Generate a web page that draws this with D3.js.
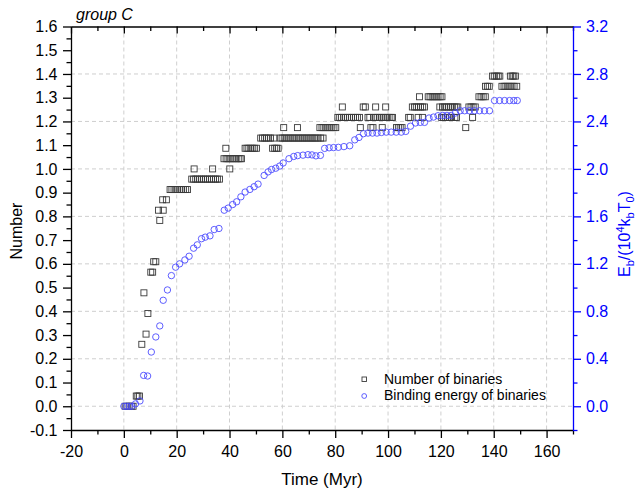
<!DOCTYPE html>
<html><head><meta charset="utf-8">
<script src="https://cdn.jsdelivr.net/npm/d3@7"></script>
<style>
html,body{margin:0;padding:0;background:#fff;}
svg{display:block;font-family:"Liberation Sans",Arial,sans-serif;}
</style></head>
<body>
<svg id="chart" width="636" height="491"></svg>
<script>
// ---- data ----
const chartTitle = "group C";
const xLabel = "Time (Myr)";
const yLeftLabel = "Number";
const legendLabels = ["Number of binaries", "Binding energy of binaries"];

const xTicks = [-20, 0, 20, 40, 60, 80, 100, 120, 140, 160];
const yLeftTicks = [-0.1, 0.0, 0.1, 0.2, 0.3, 0.4, 0.5, 0.6, 0.7, 0.8, 0.9, 1.0, 1.1, 1.2, 1.3, 1.4, 1.5, 1.6];
const yRightTicks = [0.0, 0.4, 0.8, 1.2, 1.6, 2.0, 2.4, 2.8, 3.2];

// [time (Myr), number] -- left axis
const binaryNumber = [
  [0.5,0],[1.2,0],[2.0,0],[2.8,0],[3.5,0],
  [4.7,0.043],[5.3,0.043],[5.9,0.043],
  [6.8,0.261],[7.6,0.478],[8.4,0.304],[9.1,0.391],
  [10.2,0.565],[10.9,0.565],[11.3,0.609],[12.1,0.609],
  [13.1,0.826],[13.6,0.783],[14.7,0.870],[14.9,0.826],[16.1,0.870],
  [17.5,0.913],[18.2,0.913],[19.0,0.913],[19.7,0.913],[20.4,0.913],[21.2,0.913],[21.9,0.913],[22.6,0.913],[23.4,0.913],[24.1,0.913],
  [25.7,0.957],[26.4,0.957],[26.6,1.0],[27.2,0.957],[27.9,0.957],[28.7,0.957],[29.4,0.957],[30.2,0.957],[30.9,0.957],[31.7,0.957],[32.4,0.957],[33.2,0.957],[33.6,1.0],[33.9,0.957],[34.7,0.957],[35.4,0.957],[36.2,0.957],
  [37.9,1.043],[38.6,1.087],[38.7,1.043],[39.4,1.043],[40.1,1.0],[40.2,1.043],[41.0,1.043],[41.7,1.043],[42.5,1.043],[43.3,1.043],[44.0,1.043],[44.5,1.043],
  [45.9,1.087],[46.6,1.087],[47.3,1.087],[48.1,1.087],[48.8,1.087],[49.5,1.087],[50.2,1.087],
  [51.8,1.13],[52.5,1.13],[53.3,1.13],[54.0,1.13],[54.8,1.13],[55.5,1.13],[56.3,1.087],[56.8,1.13],[57.1,1.087],[57.8,1.087],[58.4,1.087],
  [59.2,1.13],[59.9,1.13],[60.5,1.174],[60.7,1.13],[61.4,1.13],[62.2,1.13],[62.9,1.13],[63.7,1.13],[64.4,1.13],[65.2,1.13],[65.7,1.174],[66.0,1.13],[66.7,1.13],[67.5,1.13],[68.2,1.13],[69.0,1.13],[69.7,1.13],[70.5,1.13],[71.2,1.13],[72.0,1.13],[72.7,1.13],[73.5,1.13],
  [74.2,1.174],[74.5,1.13],[75.0,1.174],[75.4,1.13],[75.7,1.174],[76.5,1.174],[77.2,1.174],[78.0,1.174],[78.7,1.174],[79.5,1.174],[80.2,1.174],
  [81.0,1.217],[81.7,1.217],[82.4,1.217],[82.7,1.261],[83.2,1.217],[83.9,1.217],[84.7,1.217],[85.4,1.217],[86.2,1.217],[86.9,1.217],[87.7,1.217],[88.4,1.217],[89.2,1.217],[89.5,1.174],
  [90.6,1.261],[91.4,1.261],[92.4,1.217],[93.1,1.217],[93.5,1.174],[94.3,1.174],[94.5,1.217],[95.2,1.217],[95.3,1.261],[95.9,1.217],[96.7,1.217],[97.4,1.217],[97.8,1.174],[98.2,1.217],[98.9,1.217],[99.1,1.261],[99.7,1.217],[100.4,1.217],[101.2,1.217],[101.7,1.217],
  [103.2,1.174],[103.9,1.174],[104.6,1.174],[105.3,1.174],
  [107.8,1.217],[108.4,1.217],[109.2,1.261],[110.0,1.261],[110.7,1.261],[111.4,1.217],[111.5,1.261],[111.9,1.304],[112.3,1.261],[113.0,1.217],[113.1,1.261],[113.8,1.261],
  [115.2,1.304],[115.9,1.304],[116.7,1.304],[117.4,1.304],[118.2,1.304],[118.9,1.304],[119.6,1.261],[119.7,1.304],[120.3,1.217],[120.4,1.304],[120.6,1.261],[121.0,1.217],[121.3,1.261],[121.8,1.217],[122.1,1.261],[122.5,1.217],[122.8,1.261],[123.3,1.217],[123.6,1.261],[124.0,1.217],[124.3,1.261],[125.1,1.261],[125.3,1.217],[125.8,1.261],[125.9,1.217],[126.4,1.261],
  [129.4,1.174],[130.6,1.261],[131.4,1.261],[132.0,1.217],[132.2,1.261],[133.0,1.261],
  [134.4,1.304],[135.2,1.304],[136.0,1.304],[136.8,1.304],[136.9,1.348],[137.6,1.348],[138.3,1.348],
  [139.5,1.391],[140.2,1.391],[141.0,1.391],[141.7,1.391],[142.3,1.391],
  [143.1,1.348],[143.9,1.348],[144.6,1.348],[145.4,1.348],[146.1,1.348],[146.3,1.391],[146.9,1.348],[147.0,1.391],[147.6,1.391],[147.7,1.348],[148.2,1.391],[148.7,1.348]
];

// [time (Myr), Eb/(10^4 kb T0)] -- right axis
const bindingEnergy = [
  [0,0],[1,0],[2,0],[3,0],[4.4,0.02],[6.1,0.045],[7.5,0.26],[9.0,0.255],[10.4,0.457],[12.1,0.584],
  [13.6,0.677],[14.9,0.893],[16.5,0.98],[18.0,1.101],[19.6,1.172],[21.1,1.2],[23.1,1.233],[24.7,1.264],[26.4,1.332],[27.8,1.36],
  [29.4,1.412],[30.8,1.425],[32.6,1.436],[34.2,1.489],[36.0,1.498],[38.0,1.652],[39.5,1.67],[41.2,1.7],[42.7,1.723],[44.3,1.765],
  [45.9,1.805],[47.7,1.827],[49.3,1.85],[50.8,1.872],[53.1,1.945],[54.6,1.975],[55.9,1.995],[57.5,2.006],[59.0,2.024],[60.3,2.05],
  [62.5,2.086],[64.3,2.105],[65.8,2.112],[67.8,2.116],[69.7,2.12],[71.2,2.118],[72.7,2.11],[74.4,2.114],[76.0,2.173],[77.7,2.178],
  [79.4,2.18],[81.2,2.182],[83.3,2.188],[85.5,2.195],[87.4,2.245],[89.0,2.265],[90.7,2.297],[92.4,2.302],[94.1,2.302],[95.8,2.302],
  [97.5,2.307],[99.3,2.31],[101.2,2.31],[103.1,2.31],[105.0,2.31],[106.7,2.316],[108.5,2.36],[110.4,2.387],[112.2,2.392],[113.8,2.392],
  [115.5,2.429],[117.2,2.437],[118.9,2.448],[120.7,2.451],[122.3,2.451],[123.9,2.451],[125.5,2.471],[127.3,2.49],[129.0,2.49],[130.8,2.49],
  [132.7,2.49],[134.6,2.49],[136.5,2.49],[138.4,2.49],[140.3,2.576],[142.2,2.576],[144.1,2.576],[146.0,2.576],[147.6,2.576],[148.9,2.576]
];

// ---- drawing ----
const svg = d3.select("#chart");
const L = 71, R = 573, T = 26.5, B = 430;
const x = d3.scaleLinear().domain([-20, 170]).range([L, R]);
const yL = d3.scaleLinear().domain([-0.1, 1.6]).range([B, T]);
const yR = d3.scaleLinear().domain([-0.2, 3.2]).range([B, T]);
const blue = "#0000ff";
const fs = 16;
const majorLen = 8, minorLen = 4.5;

// grid
const grid = svg.append("g").attr("stroke", "#cfcfcf").attr("stroke-width", 1).attr("stroke-dasharray", "4,3");
xTicks.filter(d => d > -20).forEach(d => {
  grid.append("line").attr("x1", x(d)).attr("x2", x(d)).attr("y1", T).attr("y2", B);
});
yRightTicks.filter(d => d < 3.2).forEach(d => {
  grid.append("line").attr("x1", L).attr("x2", R).attr("y1", yR(d)).attr("y2", yR(d));
});

// data: squares
const sq = 6;
svg.append("g").selectAll("rect").data(binaryNumber).join("rect")
  .attr("x", d => x(d[0]) - sq / 2).attr("y", d => yL(d[1]) - sq / 2)
  .attr("width", sq).attr("height", sq)
  .attr("fill", "none").attr("stroke", "#3a3a3a").attr("stroke-width", 0.9);

// data: circles
svg.append("g").selectAll("circle").data(bindingEnergy).join("circle")
  .attr("cx", d => x(d[0])).attr("cy", d => yR(d[1])).attr("r", 3.2)
  .attr("fill", "none").attr("stroke", "#4d4dff").attr("stroke-width", 0.9);

// minor tick values
const xMinor = xTicks.map(d => d + 10);
const yLMinor = yLeftTicks.slice(0, -1).map(d => d + 0.05);
const yRMinor = [-0.2].concat(yRightTicks.slice(0, -1).map(d => d + 0.2));
const fmt1 = d => d.toFixed(1);
const fmt0 = d => String(d);

function styleAxis(g, color) {
  g.selectAll("path,line").attr("stroke", color).attr("stroke-width", 1.3);
  g.selectAll("text").attr("fill", color).attr("font-size", fs).attr("font-family", "Liberation Sans, Arial, sans-serif");
}

// bottom
const gB = svg.append("g").attr("transform", `translate(0,${B})`);
gB.call(d3.axisBottom(x).tickValues(xTicks).tickSize(majorLen).tickSizeOuter(0).tickPadding(8).tickFormat(fmt0));
styleAxis(gB, "#000");
const gBm = svg.append("g").attr("transform", `translate(0,${B})`);
gBm.call(d3.axisBottom(x).tickValues(xMinor).tickSize(minorLen).tickSizeOuter(0).tickFormat(""));
gBm.select(".domain").remove();
styleAxis(gBm, "#000");

// top (ticks inward)
const gT = svg.append("g").attr("transform", `translate(0,${T})`);
gT.call(d3.axisBottom(x).tickValues(xTicks).tickSize(majorLen - 1).tickSizeOuter(0).tickFormat(""));
styleAxis(gT, "#000");
const gTm = svg.append("g").attr("transform", `translate(0,${T})`);
gTm.call(d3.axisBottom(x).tickValues(xMinor).tickSize(minorLen).tickSizeOuter(0).tickFormat(""));
gTm.select(".domain").remove();
styleAxis(gTm, "#000");

// left
const gL = svg.append("g").attr("transform", `translate(${L},0)`);
gL.call(d3.axisLeft(yL).tickValues(yLeftTicks).tickSize(majorLen).tickSizeOuter(0).tickPadding(5.5).tickFormat(fmt1));
styleAxis(gL, "#000");
const gLm = svg.append("g").attr("transform", `translate(${L},0)`);
gLm.call(d3.axisLeft(yL).tickValues(yLMinor).tickSize(minorLen).tickSizeOuter(0).tickFormat(""));
gLm.select(".domain").remove();
styleAxis(gLm, "#000");

// right (blue)
const gR = svg.append("g").attr("transform", `translate(${R},0)`);
gR.call(d3.axisRight(yR).tickValues(yRightTicks).tickSize(majorLen).tickSizeOuter(0).tickPadding(5).tickFormat(fmt1));
styleAxis(gR, blue);
const gRm = svg.append("g").attr("transform", `translate(${R},0)`);
gRm.call(d3.axisRight(yR).tickValues(yRMinor).tickSize(minorLen).tickSizeOuter(0).tickFormat(""));
gRm.select(".domain").remove();
styleAxis(gRm, blue);

// titles
svg.append("text").attr("x", 76).attr("y", 20).attr("font-size", fs).attr("font-style", "italic").text(chartTitle);
svg.append("text").attr("x", 322).attr("y", 485).attr("text-anchor", "middle").attr("font-size", 17).text(xLabel);
svg.append("text").attr("transform", `translate(22,231) rotate(-90)`).attr("text-anchor", "middle").attr("font-size", fs).text(yLeftLabel);

const rt = svg.append("text").attr("transform", `translate(630,234) rotate(-90)`).attr("text-anchor", "middle")
  .attr("font-size", fs).attr("fill", blue);
rt.append("tspan").text("E");
rt.append("tspan").attr("font-size", 11).attr("dy", 4).text("b");
rt.append("tspan").attr("dy", -4).text("/(10");
rt.append("tspan").attr("font-size", 11).attr("dy", -6).text("4");
rt.append("tspan").attr("dy", 6).text("k");
rt.append("tspan").attr("font-size", 11).attr("dy", 4).text("b");
rt.append("tspan").attr("dy", -4).text("T");
rt.append("tspan").attr("font-size", 11).attr("dy", 4).text("0");
rt.append("tspan").attr("dy", -4).text(")");

// legend
const lg = svg.append("g");
lg.append("rect").attr("x", 362).attr("y", 377).attr("width", 4.5).attr("height", 4.5)
  .attr("fill", "none").attr("stroke", "#3a3a3a").attr("stroke-width", 0.9);
lg.append("circle").attr("cx", 364.2).attr("cy", 396).attr("r", 2.4)
  .attr("fill", "none").attr("stroke", "#4d4dff").attr("stroke-width", 0.9);
lg.append("text").attr("x", 384).attr("y", 384).attr("font-size", 14).text(legendLabels[0]);
lg.append("text").attr("x", 384).attr("y", 400).attr("font-size", 14).text(legendLabels[1]);
</script>
</body></html>
